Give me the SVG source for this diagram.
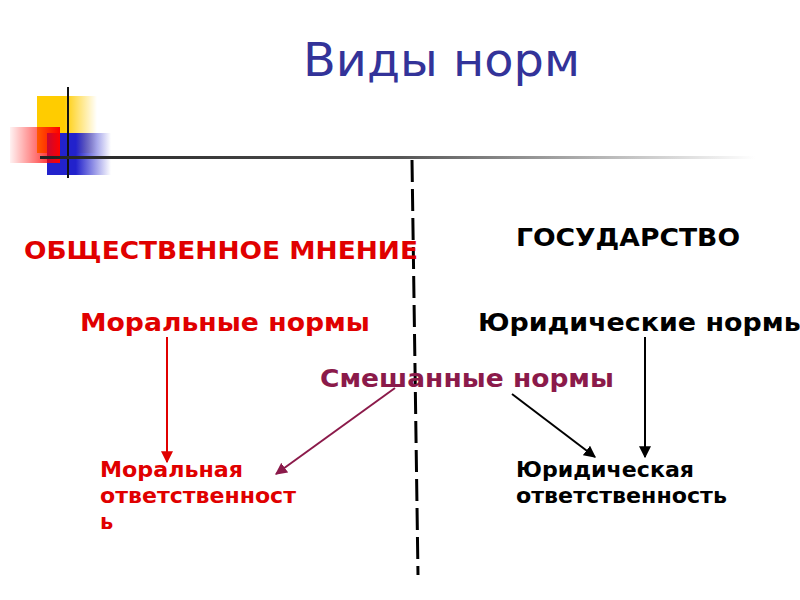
<svg xmlns="http://www.w3.org/2000/svg" width="800" height="600" viewBox="0 0 800 600">
<defs>
<linearGradient id="gy" x1="0" x2="1" y1="0" y2="0"><stop offset="0" stop-color="#ffcc00"/><stop offset="0.45" stop-color="#ffcc00"/><stop offset="1" stop-color="#ffcc00" stop-opacity="0"/></linearGradient>
<linearGradient id="gr" x1="0" x2="1" y1="0" y2="0"><stop offset="0" stop-color="#ff0000" stop-opacity="0.05"/><stop offset="1" stop-color="#ff0000"/></linearGradient>
<linearGradient id="gb" x1="0" x2="1" y1="0" y2="0"><stop offset="0" stop-color="#2222cc"/><stop offset="0.45" stop-color="#2222cc"/><stop offset="1" stop-color="#2222cc" stop-opacity="0"/></linearGradient>
<linearGradient id="gl" x1="0" x2="1" y1="0" y2="0"><stop offset="0" stop-color="#222"/><stop offset="0.5" stop-color="#555"/><stop offset="0.8" stop-color="#bbb"/><stop offset="1" stop-color="#fff"/></linearGradient>
<marker id="ar" viewBox="0 0 10 10" refX="9" refY="5" markerWidth="6" markerHeight="6" orient="auto"><path d="M0,0 L10,5 L0,10 z" fill="#e00000"/></marker>
<marker id="am" viewBox="0 0 10 10" refX="9" refY="5" markerWidth="6" markerHeight="6" orient="auto"><path d="M0,0 L10,5 L0,10 z" fill="#8b1a4a"/></marker>
<marker id="ab" viewBox="0 0 10 10" refX="9" refY="5" markerWidth="6" markerHeight="6" orient="auto"><path d="M0,0 L10,5 L0,10 z" fill="#000"/></marker>
</defs>
<style>
text{font-family:"DejaVu Sans",Verdana,sans-serif;font-weight:bold}
.r{fill:#e00000}
.k{fill:#000}
.m{fill:#8b1a4a}
.h{font-size:25px}
.s{font-size:21px}
</style>
<rect width="800" height="600" fill="#fff"/>
<g id="decor">
<rect x="37" y="96" width="60" height="57" fill="url(#gy)"/>
<rect x="47" y="133" width="64" height="42" fill="url(#gb)"/>
<rect x="10" y="127" width="50" height="36" fill="url(#gr)"/>
<line x1="68" y1="87" x2="68" y2="178" stroke="#111" stroke-width="2"/>
<rect x="40" y="156" width="715" height="3" fill="url(#gl)"/>
</g>
<text x="441.5" y="76" text-anchor="middle" textLength="277" lengthAdjust="spacingAndGlyphs" style="font-family:'DejaVu Sans',sans-serif;font-weight:normal;font-size:47px;fill:#333399">Виды норм</text>
<g id="divider"><line x1="412" y1="160" x2="418" y2="575" stroke="#000" stroke-width="3" stroke-dasharray="22,7"/></g>
<g id="n1"><text class="h r" x="24" y="259" textLength="394" lengthAdjust="spacingAndGlyphs">ОБЩЕСТВЕННОЕ МНЕНИЕ</text></g>
<g id="n2"><text class="h k" x="516" y="246" textLength="224" lengthAdjust="spacingAndGlyphs">ГОСУДАРСТВО</text></g>
<g id="n3"><text class="h r" x="80" y="331" textLength="290" lengthAdjust="spacingAndGlyphs">Моральные нормы</text></g>
<g id="n4"><text class="h k" x="478" y="331" textLength="330" lengthAdjust="spacingAndGlyphs">Юридические нормы</text></g>
<g id="n5"><text class="h m" x="320" y="387" textLength="294" lengthAdjust="spacingAndGlyphs">Смешанные нормы</text></g>
<g id="n6"><text class="s r" x="100" y="477" textLength="143" lengthAdjust="spacingAndGlyphs">Моральная</text><text class="s r" x="100" y="503" textLength="196" lengthAdjust="spacingAndGlyphs">ответственност</text><text class="s r" x="100" y="529">ь</text></g>
<g id="n7"><text class="s k" x="516" y="477" textLength="178" lengthAdjust="spacingAndGlyphs">Юридическая</text><text class="s k" x="516" y="503" textLength="211" lengthAdjust="spacingAndGlyphs">ответственность</text></g>
<g id="connectors" stroke-width="2">
<line x1="167" y1="337" x2="167" y2="462" stroke="#e00000" marker-end="url(#ar)"/>
<line x1="395" y1="388" x2="276" y2="474" stroke="#8b1a4a" marker-end="url(#am)"/>
<line x1="512" y1="394" x2="595" y2="457" stroke="#000" marker-end="url(#ab)"/>
<line x1="645" y1="337" x2="645" y2="457" stroke="#000" marker-end="url(#ab)"/>
</g>
</svg>
